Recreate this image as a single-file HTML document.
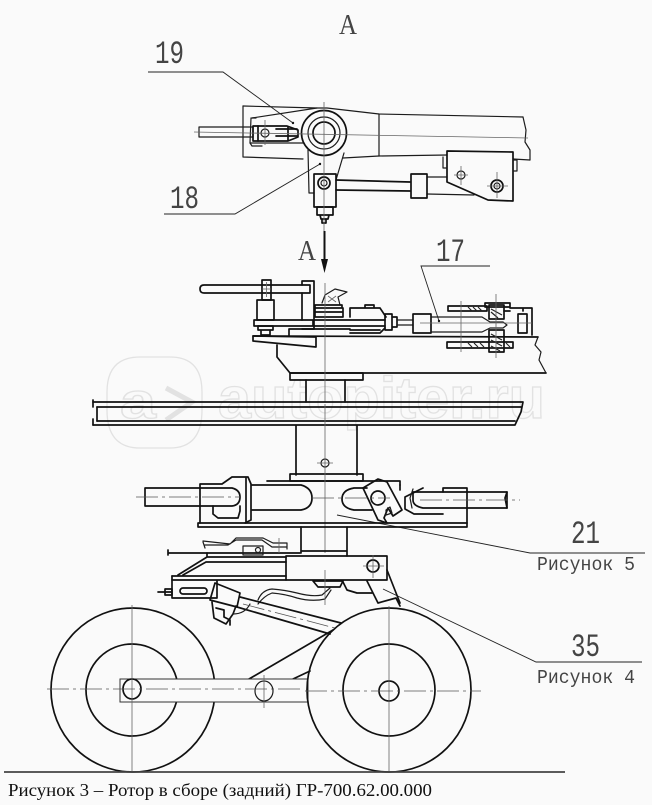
<!DOCTYPE html>
<html><head><meta charset="utf-8"><style>
html,body{margin:0;padding:0;background:#fafafa}
svg{display:block}
text{font-family:"Liberation Mono",monospace;fill:#444}
.w{fill:none;stroke:#e2e2e2;stroke-width:1.3;font-family:"Liberation Sans",sans-serif;font-weight:bold}
.t{fill:none;stroke:#1c1c1c;stroke-width:1.2;stroke-linejoin:round;stroke-linecap:round}
.k{fill:none;stroke:#111;stroke-width:1.7;stroke-linejoin:round;stroke-linecap:round}
.l{fill:none;stroke:#222;stroke-width:.9}
.c{fill:none;stroke:#666;stroke-width:.8}
.d{fill:none;stroke:#555;stroke-width:.8;stroke-dasharray:22 4 3 4}
.s{font-family:"Liberation Serif",serif}
</style></head><body>
<svg width="652" height="805" viewBox="0 0 652 805" xmlns="http://www.w3.org/2000/svg">
<rect width="652" height="805" fill="#fafafa"/>

<!-- watermark -->
<g>
<path d="M140 357H170Q202 357 202 392V410Q202 448 170 448H140Q107 448 107 410V392Q107 357 140 357Z" fill="none" stroke="#e2e2e2" stroke-width="1.3"/>
<text class="w" x="120" y="418" font-size="50" textLength="36" lengthAdjust="spacingAndGlyphs">a</text>
<path d="M166 388L192 402L166 420" fill="none" stroke="#e2e2e2" stroke-width="5"/>
<text class="w" x="218" y="418" font-size="58" textLength="327" lengthAdjust="spacingAndGlyphs">autopiter.ru</text>
</g>

<!-- TOP VIEW -->
<g>
<path class="t" d="M243 106L317 108H327L379 114L523 117"/>
<path class="t" d="M243 106V157L303 159M343 158L379 156L447 155M513 159L530 160"/>
<path class="t" d="M379 114V156"/>
<path class="t" d="M523 117L526 130L525 142L530 150V160"/>
<path class="t" d="M252 118L317 108M250 143H303"/>
<path class="t" d="M251 118L250 143L252 146L262 146M252 118H256"/>
<path class="t" d="M199 127H253V137H199ZM199 127V137"/>
<path class="k" d="M253 126H287L298 130V137L288 141H253Z" stroke-width="1.3"/>
<path class="k" stroke-width="1.3" d="M258 126V141M276 129H297M276 136H297M288 127V140"/>
<circle class="t" cx="265" cy="133" r="4"/>
<path class="c" d="M265 120V145"/>
<circle class="k" cx="324" cy="133" r="22.500" fill="#fafafa"/>
<circle class="t" cx="324" cy="133" r="16"/>
<circle class="k" cx="324" cy="133" r="11"/>
<path class="t" d="M308 150L309 193H314M344 153L336 180"/>
<path class="t" d="M427 177H447M427 194L474 195"/>
<path class="k" d="M314 174H336V207H314Z" fill="#fafafa"/>
<circle class="k" cx="324" cy="183" r="6"/><circle class="t" cx="324" cy="183" r="3"/>
<path class="k" d="M317 207H333V215H317ZM320 215H329L328 219H321ZM322 219H326V223H322Z" stroke-width="1.300"/>
<path class="k" d="M336 180L410 182M336 190L410 191" stroke-width="1.500"/>
<path class="k" d="M411 174H427V198H411Z"/>
<path class="k" d="M447 151L513 152V201L488 200L447 182Z" stroke-width="1.400" fill="#fafafa"/>
<path class="t" d="M443 157V168H447M513 160H517V171H513"/>
<circle class="t" cx="461" cy="175" r="4"/><path class="c" d="M461 166V185M454 175H468"/>
<circle class="k" cx="497" cy="186" r="6"/><circle class="t" cx="497" cy="186" r="3"/>
<path class="c" d="M497 172V198M487 186H508"/>
<path class="c" d="M324 102V232M194 132L528 138"/>
</g>

<!-- leaders -->
<path class="l" d="M148 72H223L293 123"/>
<path class="l" d="M164 214H235L320 164"/>
<path class="l" d="M490 266H421L439 321"/>
<path class="l" d="M337 515L530 553H645"/>
<path class="l" d="M383 589L536 662H642"/>
<circle cx="293" cy="123" r="1.200" fill="#111"/><circle cx="320" cy="164" r="1.200" fill="#111"/><circle cx="439" cy="321" r="1.200" fill="#111"/>

<!-- arrow A -->
<path d="M324.500 231V262" stroke="#111" stroke-width="2"/>
<path d="M321 259H328L324.500 273Z" fill="#111"/>

<!-- MIDDLE VIEW -->
<g>
<path class="k" d="M204 285H310V293H204Q200 293 200 289T204 285Z"/>
<rect class="k" x="262" y="280" width="9" height="20" fill="#fafafa"/>
<path class="c" d="M266.500 282V297M262 289H271"/>
<rect class="k" x="257" y="300" width="17" height="20"/>
<path class="k" d="M302 281H314V329H302M302 281V285M302 293V320"/>
<path class="k" d="M254 320H313V326H254Z"/>
<path class="k" d="M258 326H273V330H258ZM261 330H270V335H261Z"/>
<path class="k" d="M289 329H350M289 329V336"/>
<path class="k" d="M253 336L316 337V347L253 341Z"/>
<path class="k" d="M253 336L538 337"/>
<path class="k" d="M277 345V357L290 373H546"/>
<path class="t" d="M538 337L535 345L541 352L539 360L546 373"/>
<path class="k" d="M290 373H363V380H290Z"/>
<path class="k" d="M306 380V402M345 380V402"/>
<!-- cam -->
<path class="t" d="M322 303L325 295L335 289L347 292L338 297L340 305"/>
<path class="c" d="M328 296L336 302M336 296L328 302"/>
<path class="k" d="M315 305H342V308H315ZM315 308H343V317H315ZM315 312H343" stroke-width="1.500"/>
<!-- clevis -->
<path class="k" d="M350 317V308H380L386 317M365 308V305H374V308" stroke-width="1.500"/>
<path class="k" d="M350 333H380L385 328M350 330H380" stroke-width="1.500"/>
<path class="k" d="M314 320H385M314 326H385" stroke-width="1.500"/>
<path class="k" d="M385 314H392V330H385ZM392 317H397V327H392Z" stroke-width="1.500"/>
<path class="t" d="M397 320H413M397 325H413"/>
<path class="k" d="M413 314H431V333H413Z" fill="#fafafa"/>
<path class="t" d="M431 317H482L490 322H503L507 325L503 328H490L482 332H431"/>
<!-- fork -->
<path class="k" d="M448 306H487V311H448Z" stroke-width="1.500"/>
<path class="k" d="M447 342H513V348H447Z" stroke-width="1.500"/>
<g stroke="#222" stroke-width="1.100"><path d="M468 307L472 311M473 307L477 311M478 307L482 311M468 343L472 347M474 343L478 347M480 343L484 347M506 343L510 347"/></g>
<path class="k" d="M489 305H504V319H489ZM489 330H504V352H489Z" fill="#fafafa"/>
<path class="k" d="M485 303H510V307H485Z" stroke-width="1.300"/>
<g stroke="#222" stroke-width="1.200"><path d="M491 309L502 315M491 312L498 318M491 334L502 340M491 340L502 346M491 346L500 351"/></g>
<path class="k" d="M510 308H523V311M523 308H532V335M504 311H510" stroke-width="1.300"/>
<rect class="k" x="518" y="314" width="9" height="19" stroke-width="1.500"/>
<path class="c" d="M461 301V352M496 294V358M420 323H532"/>
<path class="c" d="M325 283V402"/>
</g>

<!-- BEAM -->
<g>
<path class="k" d="M93 402H523L521 412L515 425H93"/>
<path class="k" d="M97 407H521M97 421H515"/>
<path class="k" d="M97 407V421M93 400V407M93 419V425"/>
</g>

<!-- column + rotor -->
<g>
<path class="k" d="M296 426V475M357 426V475"/>
<path class="k" d="M290 474H363V481H290Z"/>
<path class="k" d="M267 481H400V485"/>
<circle class="t" cx="325" cy="463" r="4"/>
<path class="c" d="M325 404V553M317 463H333"/>
<path class="k" d="M198 523H467V527H198Z"/>
<path class="k" d="M200 523V484H222L232 477H248L251 484V520L245 523"/>
<path class="k" d="M145 488H232Q240 490 240 497Q240 505 232 506H145V488Z" fill="#fafafa"/>
<path class="k" d="M213 506V514L218 518H238L240 511V506"/>
<path class="k" d="M252 485H301Q312 488 312 498Q312 508 301 510H252"/>
<path class="k" d="M246 478V523"/>
<path class="k" d="M400 485V490M354 488H367M354 488Q342 490 342 499Q342 508 354 510H372"/>
<path class="k" d="M363 488L378 479L387 482L402 510L393 516L388 508L384 518L387 523L378 520Z" fill="#fafafa"/>
<circle class="k" cx="378" cy="498" r="7"/>
<path class="t" d="M386 510L390 507L392 513L386 515Z"/>
<path class="k" d="M443 488H467V523M443 488V492"/>
<path class="k" d="M413 492H507V508H423Q413 506 413 500Z"/>
<path class="k" d="M423 488L405 497L405 509L414 514H443" stroke-width="1.400"/>
<path class="t" d="M413 489L410 498L412 508"/>
<path class="k" d="M507 492L505 498L507 508"/>
<path class="d" d="M136 497H240M312 498H390M420 500H520"/>
</g>

<!-- LOWER FRAME -->
<g>
<path class="k" d="M301 527V553M347 527V556M301 551H347"/>
<path class="k" d="M168 553H300M168 550V555" stroke-width="1.500"/>
<path class="t" d="M203 542L205 548M203 541L230 544L236 538H263L273 543H287V549M205 545H228L236 540H262L272 547H287"/>
<path class="t" d="M243 546H263V555H243Z"/><circle class="t" cx="258" cy="550" r="2.500"/>
<path class="c" d="M279 538V553"/>
<path class="k" d="M286 556H387V580H286Z"/>
<circle class="k" cx="373" cy="566" r="6"/><path class="c" d="M373 555V578M363 566H384"/>
<path class="k" d="M172 576H286M172 580H286"/>
<path class="k" d="M178 575L207 557H286M183 575L206 562H286M207 553V557"/>
<path class="k" d="M172 576V598H217M217 581V598"/>
<rect class="k" x="180" y="588" width="27" height="6" rx="3"/>
<path class="k" d="M158 592H172M165 589H172V595H165Z" stroke-width="1.300"/>
<path class="k" d="M313 581H343L340 587H318Z" stroke-width="1.400"/>
<path class="k" d="M343 582L347 590L357 593H372"/>
<path class="k" d="M367 581L378 603M387 570L400 603M378 603L396 598L400 606"/>
<!-- hose -->
<path class="t" d="M258 600Q262 590 272 589Q285 590 297 593Q312 597 322 595L330 588"/>
<path class="t" d="M258 604Q264 596 272 593Q285 594 297 598Q312 602 325 599L331 590"/>
<path class="c" d="M325 570V605"/>
<!-- arm -->
<path class="k" d="M215 583L240 593L237 607L210 600Z"/>
<path class="k" d="M240 597L341 623" stroke-width="2.200"/>
<path class="k" d="M237 607L330 634"/>
<path class="k" d="M212 602L214 618L226 624L233 614L236 606" stroke-width="1.400"/>
<path class="k" d="M216 608L224 610V617L230 620V625" stroke-width="1.400"/>
<path class="t" d="M233 614Q245 614 250 604"/>
<path class="d" d="M243 604L335 628"/>
</g>

<!-- WHEELS -->
<g>
<path class="k" d="M333 630L249 679M310 671L293 679" stroke-width="1.400"/>
<ellipse class="k" cx="133" cy="690" rx="82" ry="82"/>
<ellipse class="k" cx="132" cy="690" rx="46" ry="46" stroke-width="1.500"/>
<rect x="120" y="679" width="188" height="23" fill="#fafafa" stroke="#333" stroke-width="1"/>
<ellipse class="k" cx="389" cy="690" rx="82" ry="82" fill="#fafafa"/>
<ellipse class="k" cx="389" cy="690" rx="46" ry="46" stroke-width="1.500"/>
<ellipse class="k" cx="132" cy="689" rx="9" ry="10"/>
<ellipse class="t" cx="264" cy="691" rx="9" ry="10" stroke-width="1.300"/>
<ellipse class="k" cx="389" cy="691" rx="10" ry="10"/>
<path class="c" d="M132 605V772M264 675V708M389 606V772"/>
<path class="d" d="M47 689H300M305 691H481"/>
<path d="M4 772H565" stroke="#444" stroke-width="1.800"/>
</g>

<!-- LABELS -->
<text class="s" x="339" y="34" font-size="28" textLength="18" lengthAdjust="spacingAndGlyphs">A</text>
<text x="155" y="63" font-size="32" textLength="29" lengthAdjust="spacingAndGlyphs">19</text>
<text x="170" y="208" font-size="32" textLength="29" lengthAdjust="spacingAndGlyphs">18</text>
<text class="s" x="298" y="260" font-size="28" textLength="18" lengthAdjust="spacingAndGlyphs">A</text>
<text x="436" y="261" font-size="32" textLength="29" lengthAdjust="spacingAndGlyphs">17</text>
<text x="571" y="543" font-size="32" textLength="29" lengthAdjust="spacingAndGlyphs">21</text>
<text x="571" y="656" font-size="32" textLength="29" lengthAdjust="spacingAndGlyphs">35</text>
<text x="537" y="570" font-size="19" textLength="98" lengthAdjust="spacingAndGlyphs">Рисунок 5</text>
<text x="537" y="683" font-size="19" textLength="98" lengthAdjust="spacingAndGlyphs">Рисунок 4</text>
<text x="8" y="796" font-size="18" textLength="424" lengthAdjust="spacingAndGlyphs" style="font-family:'Liberation Serif',serif;fill:#111">Рисунок 3 – Ротор в сборе (задний) ГР-700.62.00.000</text>
</svg>
</body></html>
